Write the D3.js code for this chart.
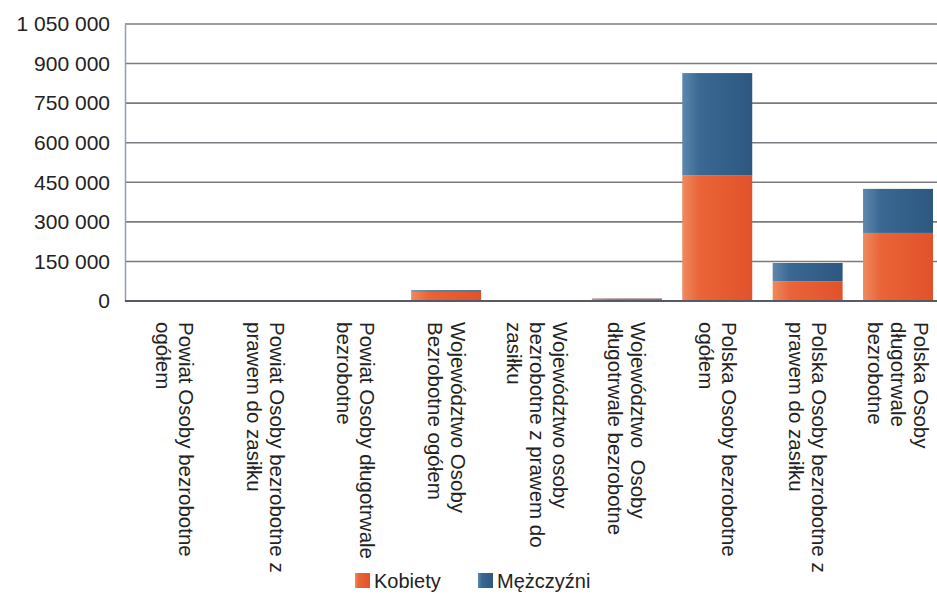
<!DOCTYPE html>
<html>
<head>
<meta charset="utf-8">
<script src="https://cdn.jsdelivr.net/npm/d3@7"></script>
<style>
  body { margin: 0; background: #fff; }
  svg { display: block; font-family: "Liberation Sans", Arial, sans-serif; }
</style>
</head>
<body>
<div id="chart"></div>
<script>
// categories (each label split into its printed lines)
const categories = [
  "Powiat ogółem", "Powiat zasiłek", "Powiat długotrwale",
  "Województwo ogółem", "Województwo zasiłek", "Województwo długotrwale",
  "Polska ogółem", "Polska zasiłek", "Polska długotrwale"
];
const categoryLabels = [
  ["Powiat Osoby bezrobotne", "ogółem"],
  ["Powiat Osoby bezrobotne z", "prawem do zasiłku"],
  ["Powiat Osoby długotrwale", "bezrobotne"],
  ["Województwo Osoby", "Bezrobotne ogółem"],
  ["Województwo osoby", "bezrobotne z prawem do", "zasiłku"],
  ["Województwo  Osoby", "długotrwale bezrobotne"],
  ["Polska Osoby bezrobotne", "ogółem"],
  ["Polska Osoby bezrobotne z", "prawem do zasiłku"],
  ["Polska Osoby", "długotrwale", "bezrobotne"]
];
const kobiety    = [1500, 300, 700, 35000, 2000, 9000, 477000, 74000, 258000];
const mezczyzni  = [1300, 300, 500, 6000, 1000, 1000, 387000, 70000, 167000];
const seriesNames = ["Kobiety", "Mężczyźni"];
const yTicks = [0, 150000, 300000, 450000, 600000, 750000, 900000, 1050000];

const W = 937, H = 597;
const plot = {left: 125, right: 937, top: 24, bottom: 301};

const svg = d3.select("#chart").append("svg")
  .attr("width", W).attr("height", H);

const defs = svg.append("defs");
function grad(id, stops) {
  const g = defs.append("linearGradient").attr("id", id)
    .attr("x1", "0%").attr("x2", "100%").attr("y1", "0%").attr("y2", "0%");
  stops.forEach(s => g.append("stop").attr("offset", s[0]).attr("stop-color", s[1]));
}
grad("gOrange", [["0%", "#ef8a5e"], ["25%", "#e96437"], ["100%", "#e2522a"]]);
grad("gBlue", [["0%", "#5d87ae"], ["25%", "#3a6892"], ["100%", "#2c5880"]]);
const colors = {"Kobiety": "url(#gOrange)", "Mężczyźni": "url(#gBlue)"};

const x = d3.scaleBand()
  .domain(categories)
  .range([plot.left, 948])
  .paddingInner(0.226)
  .paddingOuter(0.166);

const y = d3.scaleLinear()
  .domain([0, 1050000])
  .range([plot.bottom, plot.top]);

const fmt = v => d3.format(",")(v).replace(/,/g, " ");

// gridlines
svg.append("g").selectAll("line")
  .data(yTicks.filter(d => d > 0))
  .enter().append("line")
  .attr("x1", plot.left).attr("x2", plot.right)
  .attr("y1", d => y(d)).attr("y2", d => y(d))
  .attr("stroke", "#7a7a80").attr("stroke-width", 1.6);

// y axis
const yAxis = svg.append("g")
  .attr("transform", `translate(${plot.left},0)`)
  .call(d3.axisLeft(y).tickValues(yTicks).tickFormat(fmt).tickSize(0).tickPadding(15));
yAxis.select(".domain").attr("stroke", "#8f9fb8").attr("stroke-width", 1.5);
yAxis.selectAll("text").attr("font-size", 21).attr("fill", "#222")
  .attr("font-family", "Liberation Sans, Arial, sans-serif");

// stacked bars
const rows = categories.map((c, i) => ({cat: c, "Kobiety": kobiety[i], "Mężczyźni": mezczyzni[i]}));
const stacked = d3.stack().keys(seriesNames)(rows);

svg.append("g").selectAll("g")
  .data(stacked)
  .enter().append("g")
  .attr("fill", d => colors[d.key])
  .selectAll("rect")
  .data(d => d)
  .enter().append("rect")
  .attr("x", d => x(d.data.cat))
  .attr("width", x.bandwidth())
  .attr("y", d => y(d[1]))
  .attr("height", d => y(d[0]) - y(d[1]));

// zero line
svg.append("line")
  .attr("x1", plot.left).attr("x2", plot.right)
  .attr("y1", y(0)).attr("y2", y(0))
  .attr("stroke", "#555a66").attr("stroke-width", 2);

// category labels, rotated
const lineH = 23;
const labels = svg.append("g").selectAll("g")
  .data(categories)
  .enter().append("g")
  .attr("transform", d => `translate(${x(d) + x.bandwidth() / 2},322) rotate(90)`);

labels.append("text")
  .attr("font-size", 20.5)
  .attr("fill", "#222")
  .attr("xml:space", "preserve")
  .each(function(d, i) {
    const lines = categoryLabels[i];
    const n = lines.length;
    d3.select(this).selectAll("tspan")
      .data(lines)
      .enter().append("tspan")
      .attr("x", 0)
      .attr("y", (l, j) => (j - (n - 1) / 2) * lineH + 7)
      .text(l => l);
  });

// legend
const legendPos = [355, 478];
const legend = svg.append("g").selectAll("g")
  .data(seriesNames)
  .enter().append("g")
  .attr("transform", (d, i) => `translate(${legendPos[i]},573)`);
legend.append("rect")
  .attr("width", 15).attr("height", 15)
  .attr("fill", d => colors[d]);
legend.append("text")
  .attr("x", 19).attr("y", 15)
  .attr("font-size", 20)
  .attr("fill", "#222")
  .text(d => d);
</script>
</body>
</html>
